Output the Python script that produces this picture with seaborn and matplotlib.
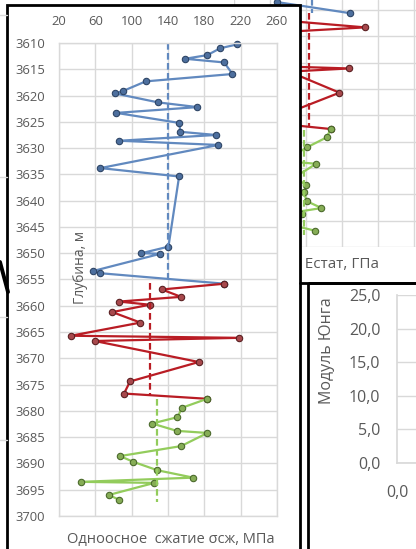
import numpy as np
import pandas as pd
import matplotlib
matplotlib.use("Agg")
import matplotlib.pyplot as plt
import seaborn as sns

sns.set_theme(style="white")
plt.rcParams['font.family'] = ['Open Sans', 'DejaVu Sans']

# ---------------- data: main chart (uniaxial compression) ----------------
blue_depth = [3610.25, 3611.0, 3612.3, 3613.0, 3613.7, 3615.9, 3617.3, 3619.1, 3619.6, 3621.3,
              3622.2, 3623.3, 3625.2, 3626.9, 3627.5, 3628.6, 3629.4, 3633.8, 3635.4, 3648.75,
              3650.0, 3650.1, 3653.4, 3653.8, 3655.8]
blue_val = [216.5, 197.4, 183.4, 158.9, 201.8, 211.0, 115.5, 90.9, 81.7, 129.1,
            172.4, 83.2, 152.2, 153.7, 192.7, 86.4, 195.5, 65.5, 152.2, 140.5,
            110.7, 131.7, 57.2, 65.2, 202.2]
red_depth = [3655.8, 3656.9, 3658.3, 3659.2, 3659.8, 3661.2, 3663.2, 3665.7, 3666.1, 3666.7,
             3670.7, 3674.4, 3676.7, 3677.7]
red_val = [202.2, 133.2, 154.4, 86.1, 119.9, 78.7, 109.6, 33.2, 218.0, 59.3,
           173.9, 98.2, 91.6, 183.1]
green_depth = [3677.7, 3679.4, 3681.2, 3682.4, 3683.8, 3684.2, 3686.7, 3688.6, 3689.7, 3691.3,
               3692.7, 3693.5, 3693.7, 3696.0, 3696.9]
green_val = [183.1, 155.5, 150.4, 122.5, 149.7, 183.4, 154.4, 87.2, 101.9, 128.4,
             167.7, 44.2, 125.0, 74.8, 86.1]
mean_val = [140, 120, 128]
mean_top = [3610, 3655.6, 3677.7]
mean_bot = [3655, 3677.0, 3697.3]
x_ticks = [20, 60, 100, 140, 180, 220, 260]
y_ticks = list(range(3610, 3701, 5))

# ---------------- data: background chart (Young's modulus Estat) ----------------
ur_blue_depth = [3653.5, 3655.6]
ur_blue_val = [12.0, 32.2]
ur_red_depth = [3655.8, 3656.9, 3658.3, 3659.2, 3659.8, 3661.2, 3663.2, 3665.7, 3666.1, 3666.7,
                3670.7, 3674.4, 3676.7, 3677.6]
ur_red_val = [15.0, 12.0, 36.4, 13.0, 16.0, 12.0, 14.0, 13.0, 32.0, 15.3,
              29.3, 15.5, 14.0, 26.9]
ur_green_depth = [3677.6, 3679.2, 3681.1, 3682.4, 3683.8, 3684.2, 3686.7, 3688.3, 3689.6, 3691.3,
                  3692.6, 3693.5, 3693.7, 3696.0, 3696.9]
ur_green_val = [26.9, 25.7, 20.2, 17.0, 16.0, 22.8, 17.0, 20.0, 19.4, 20.2,
                24.3, 16.0, 19.0, 17.0, 22.5]
ur_mean_val = [21.8, 20.8, 19.4]
ur_mean_top = [3653.0, 3655.6, 3677.8]
ur_mean_bot = [3655.6, 3677.2, 3697.7]
lr_y_ticks = [0, 5, 10, 15, 20, 25]

W, H = 416, 549


def rect(l, t, r, b):
    return [l / W, 1 - b / H, (r - l) / W, (b - t) / H]


BLUE_L, BLUE_M, BLUE_E = '#6189bf', '#4d6f9e', '#2e4566'
RED_L, RED_M, RED_E = '#b91c24', '#a8484c', '#5a2022'
GRN_L, GRN_M, GRN_E = '#93cc5c', '#86ad56', '#4b6a2c'
GRID = '#d9d9d9'
TXT = '#595959'
MS = 4.6

fig = plt.figure(figsize=(W / 100, H / 100), dpi=100)
fig.patch.set_facecolor('white')

# ---------- upper-right background chart ----------
ax_ur = fig.add_axes(rect(234, 0, 416, 247), zorder=0)
ax_ur.set_xlim(0, (416 - 234) / 3.6)
ax_ur.set_ylim(3700, 3655 - 10 / 5.267)
ax_ur.set_xticks([0, 10, 20, 30, 40, 50])
ax_ur.set_yticks(list(range(3655, 3701, 5)))
ax_ur.grid(True, color=GRID, lw=1)
ax_ur.tick_params(length=0, labelleft=False, labelbottom=False)
for s in ax_ur.spines.values():
    s.set_visible(False)
for d, v, lc, mc, ec in [(ur_blue_depth, ur_blue_val, BLUE_L, BLUE_M, BLUE_E),
                         (ur_red_depth, ur_red_val, RED_L, RED_M, RED_E),
                         (ur_green_depth, ur_green_val, GRN_L, GRN_M, GRN_E)]:
    df = pd.DataFrame({'v': v, 'd': d})
    sns.lineplot(data=df, x='v', y='d', sort=False, estimator=None, ax=ax_ur, color=lc, lw=1.6,
                 marker='o', markersize=MS, markerfacecolor=mc, markeredgecolor=ec, markeredgewidth=0.8)
for v, t, b, c in zip(ur_mean_val, ur_mean_top, ur_mean_bot, [BLUE_L, RED_L, GRN_L]):
    ax_ur.plot([v, v], [t, b], color=c, lw=1.6, ls=(0, (3, 1.5)))
ax_ur.set_xlabel('')
ax_ur.set_ylabel('')
fig.text(379 / W, 1 - 265 / H, 'Модуль Юнга Естат, ГПа', ha='right', va='center',
         fontsize=11, color=TXT, zorder=0.5)

# ---------- lower-right background chart ----------
ax_lr = fig.add_axes(rect(397, 295, 470, 463), zorder=0.6)
ax_lr.set_ylim(0, 25)
ax_lr.set_xlim(0, 10)
ax_lr.set_yticks(lr_y_ticks)
ax_lr.set_yticklabels([f'{t:.1f}'.replace('.', ',') for t in lr_y_ticks])
ax_lr.set_xticks([0])
ax_lr.set_xticklabels(['0,0'])
ax_lr.grid(True, axis='y', color=GRID, lw=1)
ax_lr.tick_params(length=0, labelsize=11.5, labelcolor=TXT, pad=12)
ax_lr.tick_params(axis='x', pad=16)
for k, s in ax_lr.spines.items():
    s.set_visible(k in ('left', 'bottom'))
    s.set_color(GRID)
fig.text(327 / W, 1 - 351 / H, 'Модуль Юнга', rotation=90, ha='center', va='center',
         fontsize=11.5, color=TXT, zorder=0.7)

# ---------- overlay panel / borders ----------
ax_bg = fig.add_axes([0, 0, 1, 1], zorder=1)
ax_bg.set_xlim(0, W)
ax_bg.set_ylim(H, 0)
ax_bg.axis('off')
ax_bg.patch.set_alpha(0)
ax_bg.add_patch(plt.Rectangle((308, 283), 120, 300, facecolor='none', edgecolor='black', lw=2))
ax_bg.plot([300, 416], [283, 283], color='black', lw=2)
ax_bg.plot([0, 8], [262, 292], color='black', lw=2.8)
for yy in [15, 177, 317, 440]:
    ax_bg.plot([0, 7], [yy, yy], color=GRID, lw=1)
ax_bg.add_patch(plt.Rectangle((7, 5), 293, 560, facecolor='white', edgecolor='black', lw=2))

# ---------- main chart ----------
ax = fig.add_axes(rect(59, 43, 277, 516), zorder=2)
ax.patch.set_alpha(0)
for d, v, lc, mc, ec in [(blue_depth, blue_val, BLUE_L, BLUE_M, BLUE_E),
                         (red_depth, red_val, RED_L, RED_M, RED_E),
                         (green_depth, green_val, GRN_L, GRN_M, GRN_E)]:
    df = pd.DataFrame({'v': v, 'd': d})
    sns.lineplot(data=df, x='v', y='d', sort=False, estimator=None, ax=ax, color=lc, lw=1.6,
                 marker='o', markersize=MS, markerfacecolor=mc, markeredgecolor=ec, markeredgewidth=0.8,
                 clip_on=False)
for v, t, b, c in zip(mean_val, mean_top, mean_bot, [BLUE_L, RED_L, GRN_L]):
    ax.plot([v, v], [t, b], color=c, lw=1.6, ls=(0, (3, 1.5)))
ax.set_xlim(20, 260)
ax.set_ylim(3700, 3610)
ax.set_xticks(x_ticks)
ax.set_yticks(y_ticks)
ax.xaxis.tick_top()
ax.grid(True, color=GRID, lw=1)
ax.set_axisbelow(True)
ax.tick_params(length=0, labelsize=9.4, labelcolor=TXT)
ax.tick_params(axis='y', pad=10)
ax.tick_params(axis='x', pad=11)
for s in ax.spines.values():
    s.set_color(GRID)
    s.set_linewidth(1)
ax.set_xlabel('')
ax.set_ylabel('')
fig.text(80 / W, 1 - 268 / H, 'Глубина, м', rotation=90, ha='center', va='center',
         fontsize=10, color=TXT, zorder=3)
fig.text(171 / W, 1 - 540 / H, 'Одноосное  сжатие σсж, МПа', ha='center', va='center',
         fontsize=10.5, color=TXT, zorder=3)

fig.savefig('out.png', dpi=100, facecolor='white')
